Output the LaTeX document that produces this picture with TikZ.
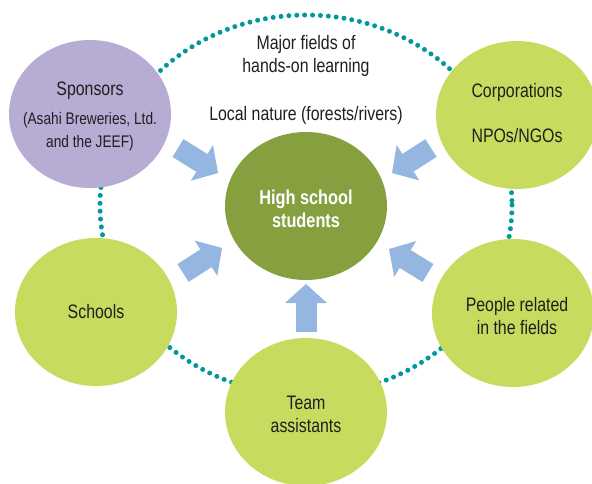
\documentclass[tikz,border=0pt]{standalone}
\usepackage{fontspec}
\setmainfont{Liberation Sans}[FakeStretch=0.815]
\usetikzlibrary{shapes.geometric,arrows.meta}

\definecolor{bubblelilac}{RGB}{183,172,212}
\definecolor{bubblelime}{RGB}{200,219,94}
\definecolor{bubbleolive}{RGB}{135,160,63}
\definecolor{arrowblue}{RGB}{149,182,224}
\definecolor{ringteal}{RGB}{0,152,155}

\newcommand{\smallfont}{\fontsize{16.8}{22}\selectfont}

\begin{document}
\begin{tikzpicture}[x=1pt, y=-1pt,
    bubble/.style={ellipse, minimum width=162pt, minimum height=148pt, inner sep=0pt},
    plain/.style={align=center, text=black!88, font=\fontsize{19.5}{23}\selectfont},
    bigarrow/.style={arrowblue, line width=21pt,
        -{Triangle[length=19pt, width=42pt, line width=0pt]}},
    ring/.style={ringteal, line width=5pt, line cap=round, dash pattern=on 0pt off 7.9pt}]
    \useasboundingbox (0,0) rectangle (592,483);

    % Center
    \coordinate (mid) at (306,205);
    % Dotted ring
    \draw[ring] (mid) ellipse [x radius=206, y radius=190];

    % Bubbles
    \node[bubble, fill=bubbleolive] (students) at (306,206) {};
    \node[bubble, fill=bubblelilac] (sponsors) at (90,114) {};
    \node[bubble, fill=bubblelime] (corporations) at (517,115) {};
    \node[bubble, fill=bubblelime] (schools) at (96,312) {};
    \node[bubble, fill=bubblelime] (people) at (513,313) {};
    \node[bubble, fill=bubblelime] (team) at (306,412) {};

    % Bubble texts
    \node[plain, text=white, font=\fontsize{20}{23}\selectfont\bfseries]
        (studentstext) at ([yshift=-3pt]students) {High school\\students};
    \node[plain] (sponsorstext) at ([yshift=-2pt]sponsors)
        {Sponsors\\[6pt]\smallfont (Asahi Breweries, Ltd.\\\smallfont and the JEEF)};
    \node[plain] (corporationstext) at ([yshift=2pt]corporations) {Corporations\\[22pt]NPOs/NGOs};
    \node[plain] (schoolstext) at (schools) {Schools};
    \node[plain] (peopletext) at ([shift={(4,3)}]people) {People related\\in the fields};
    \node[plain] (teamtext) at ([yshift=-2pt]team) {Team\\assistants};

    % Texts
    \node[plain] (fields) at (306,56) {Major fields of\\hands-on learning};
    \node[plain] (nature) at (306,115) {Local nature (forests/rivers)};

    % Arrows
    \coordinate (s1) at (178,148); \coordinate (e1) at (218,173);
    \coordinate (s2) at (431,148); \coordinate (e2) at (392,173);
    \coordinate (s3) at (183,273); \coordinate (e3) at (222,248);
    \coordinate (s4) at (428,273); \coordinate (e4) at (389,249);
    \coordinate (s5) at (306,332); \coordinate (e5) at (306,284);
    \foreach \i in {1,...,5}
        \draw[bigarrow] (s\i) -- (e\i);
\end{tikzpicture}
\end{document}
